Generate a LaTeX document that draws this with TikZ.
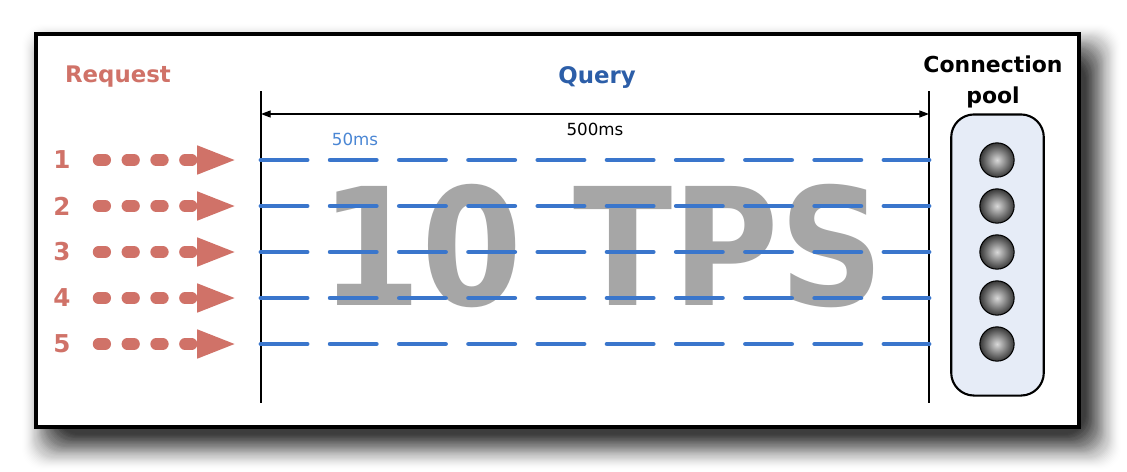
\documentclass[tikz,border=0pt]{standalone}
\usepackage{fontspec}
\setmainfont{DejaVu Sans}
\usetikzlibrary{arrows.meta, calc}

\definecolor{reqred}{RGB}{208,114,104}
\definecolor{querytitle}{RGB}{44,94,168}
\definecolor{querydash}{RGB}{58,118,204}
\definecolor{slotblue}{RGB}{74,134,212}
\definecolor{tpsgray}{RGB}{166,166,166}
\definecolor{poolfill}{RGB}{230,236,247}

\tikzset{
    title/.style={font=\fontsize{13}{15}\selectfont\bfseries},
    reqnum/.style={font=\fontsize{14}{16}\selectfont\bfseries, text=reqred},
    reqarrow/.style={draw=reqred, line width=6.6pt, line cap=round,
        dash pattern=on 3.8pt off 12.6pt,
        -{Triangle[length=22.7pt, width=14.7pt]},
        shorten <=12.4pt, shorten >=13.6pt},
    qline/.style={draw=querydash, line width=2.8pt, line cap=round,
        dash pattern=on 26.2pt off 13.2pt},
    timeline/.style={draw=black, line width=0.7pt},
    poolbox/.style={draw=black, line width=1.2pt, fill=poolfill,
        rounded corners=13pt, minimum width=52.7pt, minimum height=160pt},
    ball/.style={circle, draw=black, line width=0.6pt, minimum size=19.5pt,
        inner sep=0pt, inner color=gray!30, outer color=black!78},
}

\begin{document}
\begin{tikzpicture}[x=0.02cm, y=-0.02cm]
    \useasboundingbox (0,0) rectangle (1127,471);

    % blurred shadow under the frame
    \foreach \k in {0,...,36} {
        \pgfmathsetmacro{\op}{0.075*(1-\k/37)}
        \fill[black, opacity=\op, rounded corners=12pt] ({58-\k},{60-\k}) rectangle ({1085+\k},{434+\k});
    }
    \draw[line width=2pt, fill=white] (36,34) rectangle (1079,427);

    \node[text=tpsgray, font=\fontsize{93}{93}\selectfont\bfseries] (tps) at (602,246) {\scalebox{0.89}[1]{10 TPS}};

    \node[title, text=reqred] (request) at (118,77) {Request};
    \node[title, text=querytitle] (query) at (597,77) {Query};
    \node[font=\fontsize{12.5}{17.6}\selectfont\bfseries, align=center] (pooltitle) at (993,82) {Connection\\pool};

    \coordinate (lt) at (261,91);
    \coordinate (lb) at (261,403);
    \coordinate (rt) at (929,91);
    \coordinate (rb) at (929,403);
    \coordinate (dl) at (261,114);
    \coordinate (dr) at (929,114);
    \draw[timeline] (lt) -- (lb);
    \draw[timeline] (rt) -- (rb);
    \draw[timeline, {Triangle[length=5.5pt, width=4pt]}-{Triangle[length=5.5pt, width=4pt]}] (dl) -- node[midway, below=1.5pt, font=\fontsize{9.5}{11}\selectfont] (total) {500ms} (dr);
    \node[font=\fontsize{9.5}{11}\selectfont, text=slotblue] (slot) at (355,139) {50ms};

    \node[poolbox] (pool) at (997.5,255) {};

    \foreach \i/\y in {1/160,2/206,3/252,4/298,5/344} {
        \node[reqnum] (n\i) at (62,\y) {\i};
        \coordinate (q\i) at (261,\y);
        \coordinate (e\i) at (929,\y);
        \draw[qline] (q\i) -- (e\i);
        \draw[reqarrow] (n\i) -- (q\i);
        \node[ball] (c\i) at (997,\y) {};
    }
\end{tikzpicture}
\end{document}
